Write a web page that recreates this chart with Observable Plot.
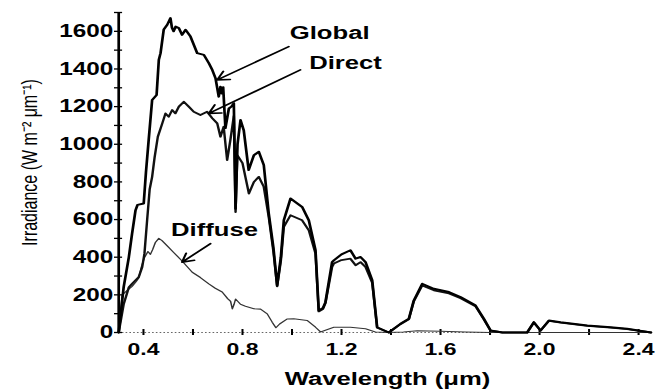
<!DOCTYPE html>
<html>
<head>
<meta charset="utf-8">
<script src="https://cdn.jsdelivr.net/npm/d3@7"></script>
<script src="https://cdn.jsdelivr.net/npm/@observablehq/plot@0.6"></script>
<style>
  html, body { margin: 0; padding: 0; background: #fff; }
  #chart { width: 655px; height: 390px; overflow: hidden; }
</style>
</head>
<body>
<div id="chart"></div>
<script>
// ---- Data (wavelength µm, irradiance W m-2 µm-1) ----
const globalSpectrum = [
  [0.300,0],[0.320,241],[0.341,401],[0.354,525],[0.368,650],[0.376,678],[0.401,685],
  [0.410,850],[0.421,1022],[0.435,1235],[0.445,1250],[0.453,1262],[0.462,1448],[0.469,1484],
  [0.482,1610],[0.496,1635],[0.509,1670],[0.515,1620],[0.522,1600],[0.530,1625],[0.543,1617],
  [0.556,1581],[0.570,1608],[0.590,1572],[0.617,1484],[0.644,1475],[0.664,1431],[0.678,1395],
  [0.691,1351],[0.704,1253],[0.711,1306],[0.716,1270],[0.722,1303],[0.731,1086],[0.745,1190],
  [0.755,1200],[0.765,1218],[0.772,658],[0.780,1000],[0.792,1129],[0.805,1075],[0.825,863],
  [0.846,942],[0.866,960],[0.886,890],[0.906,633],[0.925,450],[0.940,250],[0.955,400],
  [0.967,596],[0.994,712],[1.041,667],[1.068,596],[1.095,437],[1.108,117],[1.125,130],
  [1.135,161],[1.162,374],[1.169,383],[1.200,415],[1.236,437],[1.257,392],[1.277,401],
  [1.297,374],[1.324,277],[1.344,28],[1.391,0],[1.438,46],[1.472,73],[1.492,170],
  [1.526,259],[1.573,232],[1.634,215],[1.681,188],[1.741,144],[1.775,73],[1.802,11],
  [1.850,0],[1.950,0],[1.977,55],[2.004,11],[2.038,64],[2.085,55],[2.193,37],[2.287,28],
  [2.354,20],[2.450,0]
];
const directSpectrum = [
  [0.300,0],[0.320,150],[0.341,240],[0.354,259],[0.381,295],[0.395,348],[0.404,419],
  [0.415,600],[0.425,760],[0.435,827],[0.445,930],[0.458,1040],[0.476,1111],[0.489,1164],
  [0.502,1146],[0.516,1182],[0.529,1164],[0.543,1200],[0.563,1226],[0.583,1200],[0.603,1173],
  [0.630,1155],[0.657,1173],[0.678,1138],[0.698,1111],[0.711,1040],[0.724,1093],[0.738,916],
  [0.751,1022],[0.765,1150],[0.772,640],[0.779,942],[0.800,900],[0.826,738],[0.846,800],
  [0.866,827],[0.886,774],[0.906,614],[0.925,430],[0.940,245],[0.955,380],[0.967,561],
  [0.994,623],[1.041,596],[1.068,543],[1.095,419],[1.108,112],[1.125,125],[1.135,155],
  [1.162,348],[1.169,366],[1.200,385],[1.236,392],[1.257,357],[1.277,374],[1.297,348],
  [1.324,265],[1.344,25],[1.391,0],[1.438,44],[1.472,70],[1.492,165],[1.526,250],
  [1.573,224],[1.634,208],[1.681,182],[1.741,140],[1.775,70],[1.802,10],[1.850,0],
  [1.950,0],[1.977,53],[2.004,10],[2.038,62],[2.085,53],[2.193,35],[2.287,26],[2.354,18],
  [2.450,0]
];
const diffuseSpectrum = [
  [0.300,0],[0.314,200],[0.330,218],[0.354,245],[0.370,270],[0.381,290],[0.392,350],
  [0.403,395],[0.418,430],[0.428,415],[0.437,440],[0.448,478],[0.462,500],[0.475,488],
  [0.496,460],[0.522,425],[0.556,380],[0.597,320],[0.630,292],[0.664,258],[0.690,235],
  [0.718,215],[0.740,180],[0.752,165],[0.759,125],[0.766,150],[0.772,178],[0.792,150],
  [0.812,140],[0.846,126],[0.873,124],[0.900,99],[0.920,55],[0.935,25],[0.950,45],
  [0.981,72],[1.007,73],[1.061,64],[1.095,28],[1.115,3],[1.169,28],[1.236,28],[1.297,20],
  [1.337,3],[1.390,0],[1.450,3],[1.506,9],[1.600,7],[1.700,3],[1.800,0],[2.450,0]
];

const xDomain = [0.3, 2.45];
const yDomain = [0, 1700];
const xTickLabels = [0.4, 0.8, 1.2, 1.6, 2.0, 2.4];
const xTickMarks = [0.4, 0.6, 0.8, 1.0, 1.2, 1.4, 1.6, 1.8, 2.0, 2.2, 2.4];
const yTickLabels = [0, 200, 400, 600, 800, 1000, 1200, 1400, 1600];
const yTickMarks = d3.range(0, 1701, 100);

const annotations = [
  {label: "Global", x: 1.152, y: 1592},
  {label: "Direct", x: 1.216, y: 1432},
  {label: "Diffuse", x: 0.687, y: 543}
];
const arrows = [
  {x1: 0.987, y1: 1519, x2: 0.698, y2: 1342},
  {x1: 1.034, y1: 1395, x2: 0.664, y2: 1164},
  {x1: 0.671, y1: 472, x2: 0.556, y2: 374}
];
const xLabel = "Wavelength (μm)";
const yLabel = "Irradiance (W m⁻² μm⁻¹)";

// The reference image is horizontally stretched; draw narrower then stretch.
const W = 485;
const H = 390;

const svg = Plot.plot({
  width: W,
  height: H,
  marginLeft: 87.4,
  marginRight: 3.5,
  marginTop: 12,
  marginBottom: 58,
  style: {fontFamily: "'Liberation Sans', Arial, sans-serif", fontSize: "16px", color: "#000", background: "#fff"},
  x: {domain: xDomain},
  y: {domain: yDomain},
  marks: [
    Plot.ruleY([0], {stroke: "#666", strokeWidth: 1.2, strokeDasharray: "1.2 1.6"}),
    Plot.ruleX([xDomain[0]], {stroke: "#000", strokeWidth: 2}),
    Plot.axisX({ticks: xTickMarks, tickSize: 6, dy: -3, tickFormat: () => "", label: null, strokeWidth: 1.5}),
    Plot.axisX({ticks: xTickLabels, tickSize: 0, tickPadding: 10, tickFormat: d3.format(".1f"),
      fontSize: 17, fontWeight: "bold", label: null}),
    Plot.axisY({ticks: yTickMarks, tickSize: 6, dx: 3, tickFormat: () => "", label: null, strokeWidth: 1.3}),
    Plot.axisY({ticks: yTickLabels, tickSize: 0, tickPadding: 4, tickFormat: d => String(d),
      fontSize: 18, fontWeight: "bold", label: null}),
    Plot.line(diffuseSpectrum, {x: d => d[0], y: d => d[1], stroke: "#333", strokeWidth: 1.1}),
    Plot.line(directSpectrum, {x: d => d[0], y: d => d[1], stroke: "#111", strokeWidth: 1.8}),
    Plot.line(globalSpectrum, {x: d => d[0], y: d => d[1], stroke: "#000", strokeWidth: 2}),
    Plot.arrow(arrows, {x1: "x1", y1: "y1", x2: "x2", y2: "y2", stroke: "#000", strokeWidth: 1.6, headLength: 9}),
    Plot.text(annotations, {x: "x", y: "y", text: "label", fontSize: 19, fontWeight: "bold", fill: "#000"}),
    Plot.text([xLabel], {text: d => d, frameAnchor: "bottom", textAnchor: "middle", dy: 52, dx: 2, fontSize: 19, fontWeight: "bold", fill: "#000"}),
    Plot.text([yLabel], {text: d => d, frameAnchor: "left", textAnchor: "middle", lineAnchor: "middle", rotate: -90, dx: -66, dy: -10, fontSize: 16, fill: "#000"})
  ]
});

svg.setAttribute("width", 655);
svg.setAttribute("height", H);
svg.setAttribute("viewBox", `0 0 ${W} ${H}`);
svg.setAttribute("preserveAspectRatio", "none");
svg.style.maxWidth = "none";
svg.style.width = "655px";
svg.style.height = H + "px";
document.getElementById("chart").appendChild(svg);
</script>
</body>
</html>
